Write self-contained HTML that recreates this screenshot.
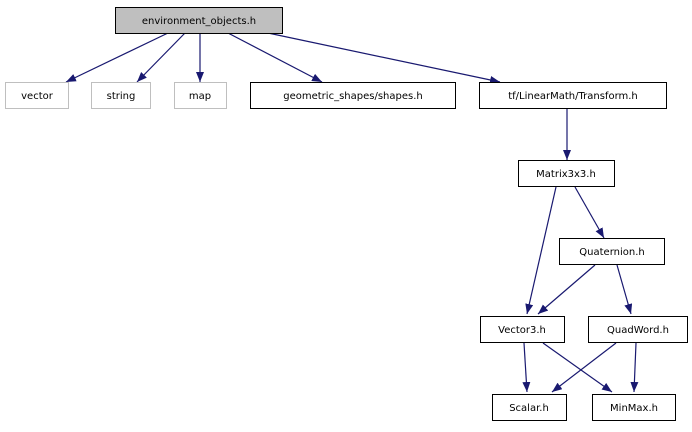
<!DOCTYPE html>
<html><head><meta charset="utf-8"><style>
html,body{margin:0;padding:0;background:#fff;}
text{font-family:"DejaVu Sans","Liberation Sans",sans-serif;font-size:10px;text-anchor:middle;fill:#000;}
</style></head><body>
<svg width="692" height="427" viewBox="0 0 692 427" xmlns="http://www.w3.org/2000/svg">
<defs>
<marker id="a" viewBox="0 0 10 8" refX="10" refY="4" markerWidth="10" markerHeight="8" markerUnits="userSpaceOnUse" orient="auto">
<path d="M0,0 L10,4 L0,8 z" fill="#191970"/>
</marker>
</defs>
<g stroke="#191970" stroke-width="1.2" fill="none" marker-end="url(#a)">
<line x1="168" y1="33" x2="66" y2="82"/>
<line x1="185" y1="33" x2="137" y2="82"/>
<line x1="200" y1="33" x2="200" y2="82"/>
<line x1="228" y1="33" x2="322" y2="82"/>
<line x1="268" y1="33" x2="500" y2="82"/>
<line x1="567" y1="108" x2="567" y2="160"/>
<line x1="556" y1="187" x2="527" y2="314"/>
<line x1="575" y1="187" x2="604" y2="238"/>
<line x1="595" y1="265" x2="538" y2="314"/>
<line x1="617" y1="265" x2="631" y2="314"/>
<line x1="524" y1="343" x2="527" y2="392"/>
<line x1="543" y1="343" x2="612" y2="392"/>
<line x1="616" y1="343" x2="552" y2="392"/>
<line x1="636" y1="343" x2="634" y2="392"/>
</g>
<g stroke-width="1">
<rect x="115.5" y="7.5" width="167" height="26" fill="#bfbfbf" stroke="#000"/>
<rect x="5.5" y="82.5" width="63" height="26" fill="#fff" stroke="#bfbfbf"/>
<rect x="91.5" y="82.5" width="59" height="26" fill="#fff" stroke="#bfbfbf"/>
<rect x="174.5" y="82.5" width="52" height="26" fill="#fff" stroke="#bfbfbf"/>
<rect x="250.5" y="82.5" width="205" height="26" fill="#fff" stroke="#000"/>
<rect x="479.5" y="82.5" width="187" height="26" fill="#fff" stroke="#000"/>
<rect x="518.5" y="160.5" width="96" height="26" fill="#fff" stroke="#000"/>
<rect x="559.5" y="238.5" width="105" height="26" fill="#fff" stroke="#000"/>
<rect x="480.5" y="316.5" width="84" height="26" fill="#fff" stroke="#000"/>
<rect x="588.5" y="316.5" width="99" height="26" fill="#fff" stroke="#000"/>
<rect x="492.5" y="394.5" width="74" height="26" fill="#fff" stroke="#000"/>
<rect x="592.5" y="394.5" width="83" height="26" fill="#fff" stroke="#000"/>
</g>
<text x="199" y="24">environment_objects.h</text>
<text x="37" y="99">vector</text>
<text x="121" y="99">string</text>
<text x="200" y="99">map</text>
<text x="353" y="99">geometric_shapes/shapes.h</text>
<text x="573" y="99">tf/LinearMath/Transform.h</text>
<text x="566" y="177">Matrix3x3.h</text>
<text x="612" y="255">Quaternion.h</text>
<text x="522" y="333">Vector3.h</text>
<text x="638" y="333">QuadWord.h</text>
<text x="529" y="411">Scalar.h</text>
<text x="634" y="411">MinMax.h</text>
</svg>
</body></html>
